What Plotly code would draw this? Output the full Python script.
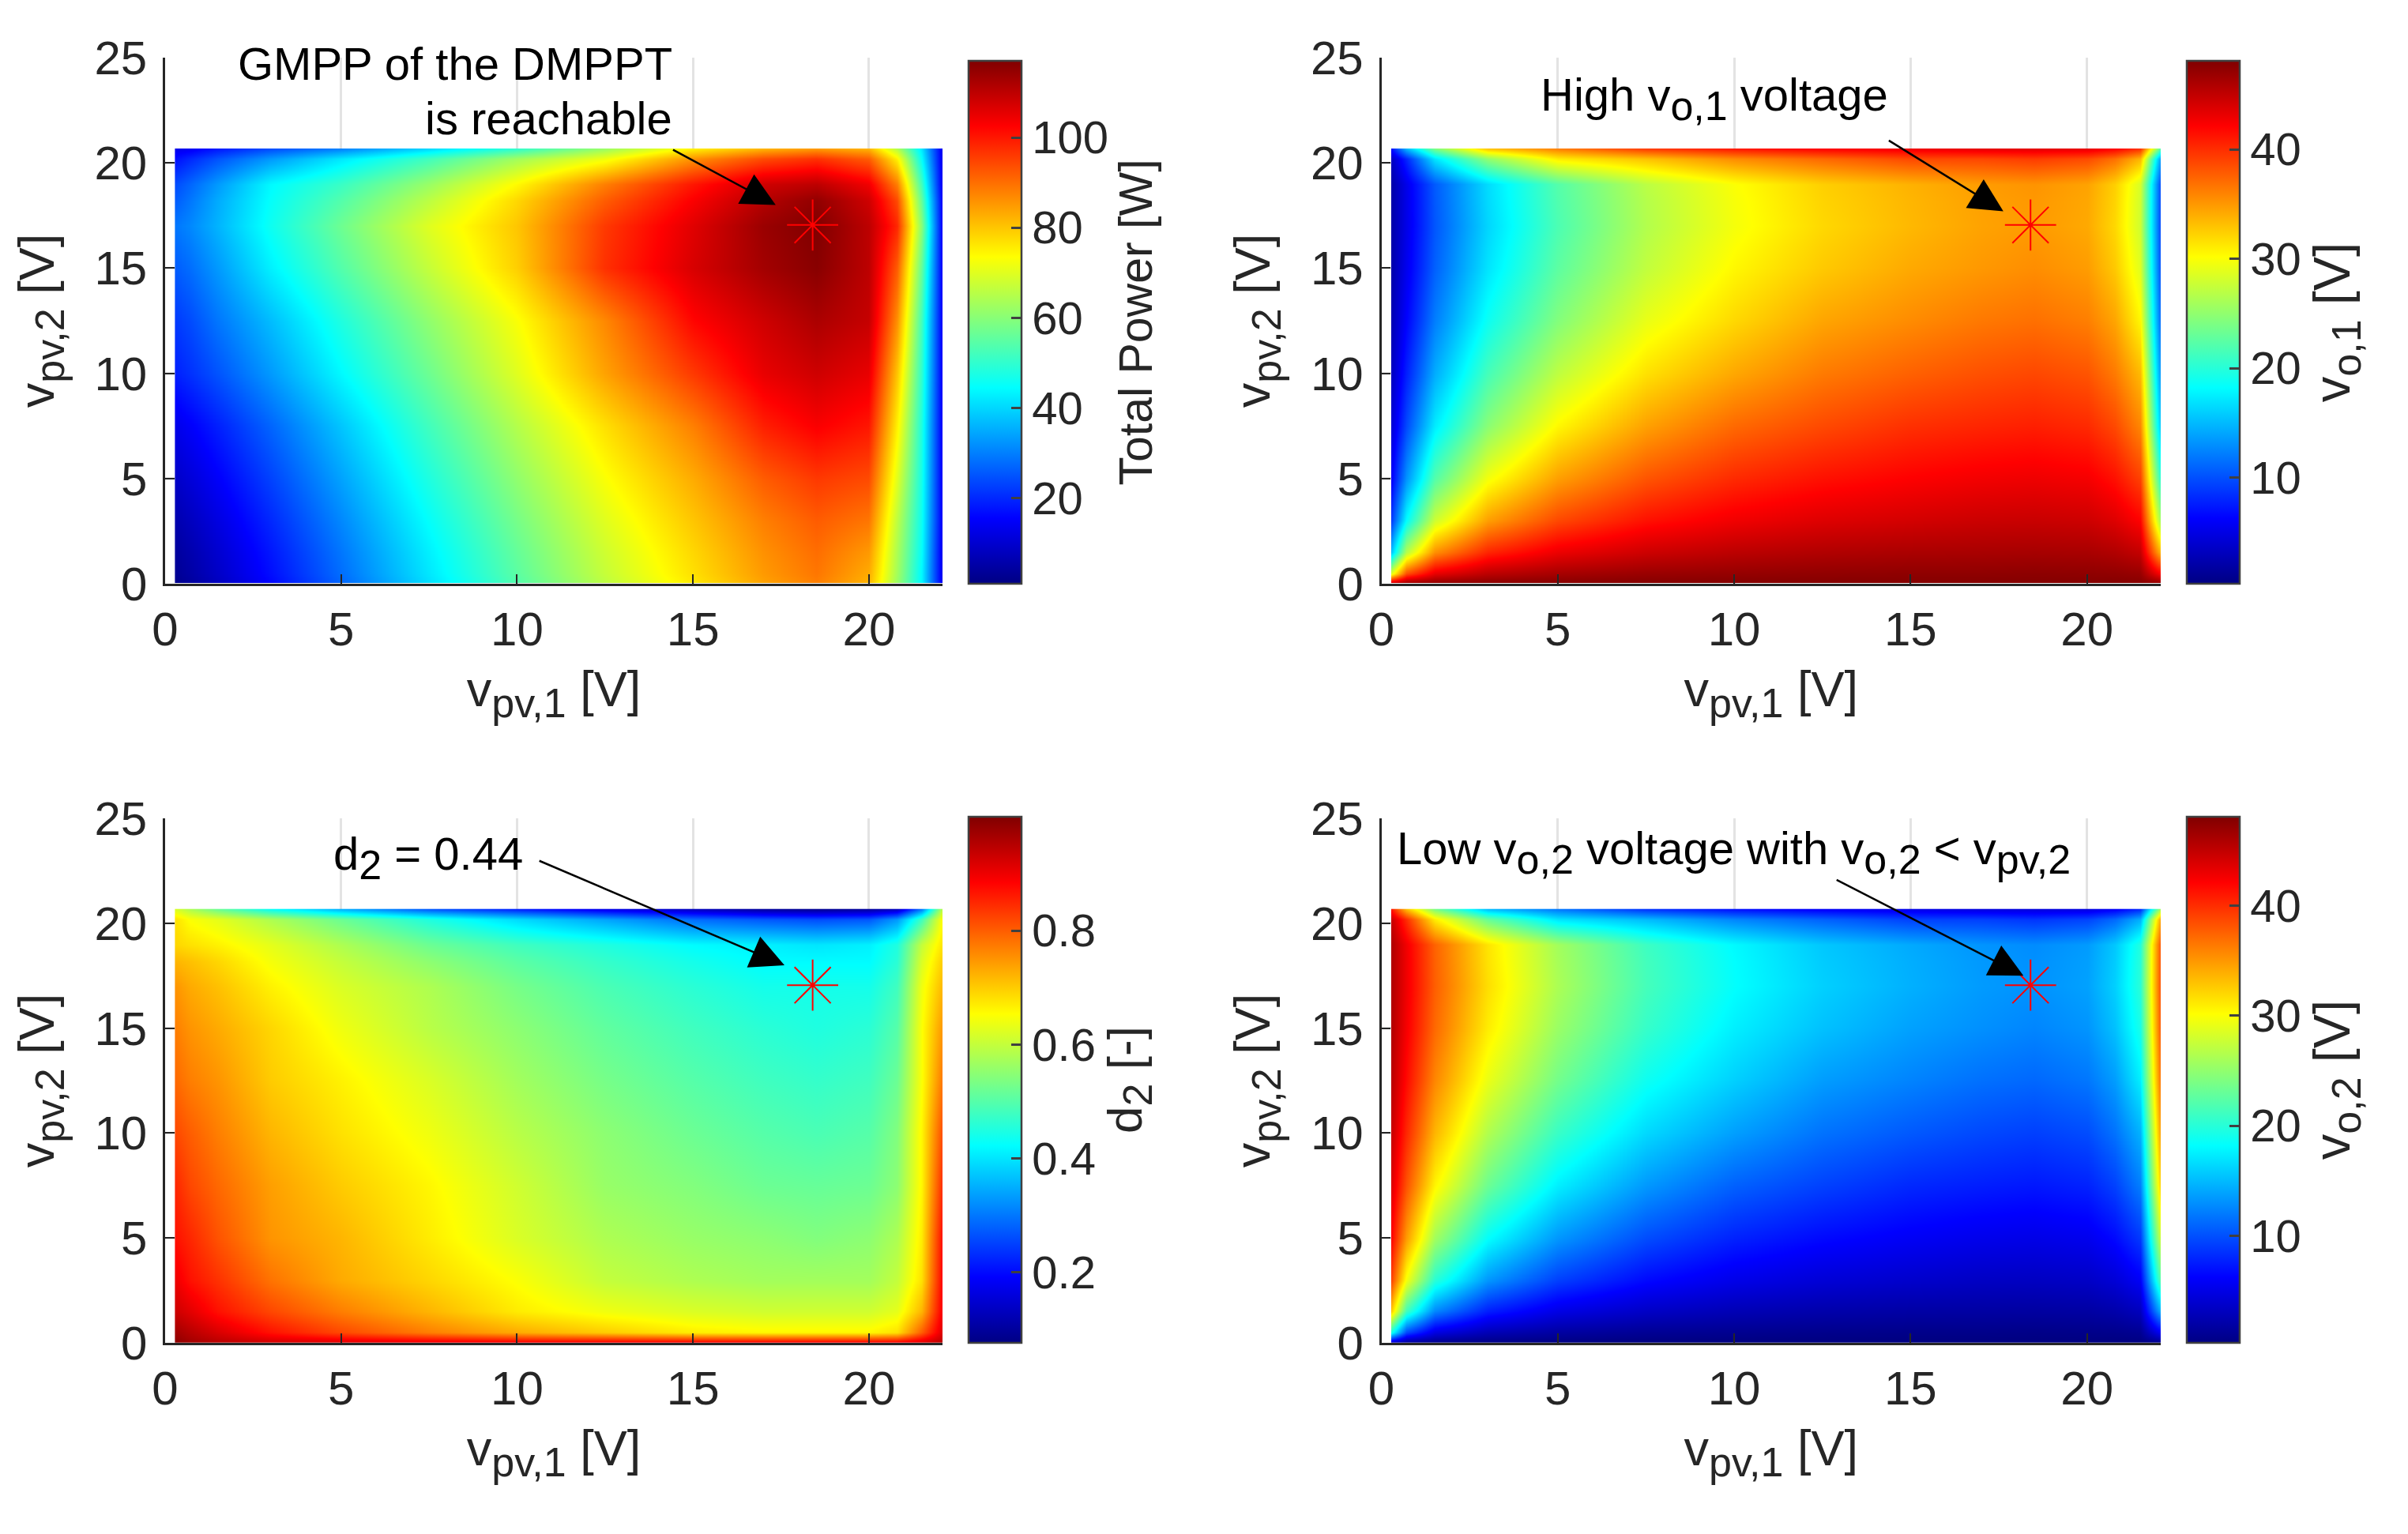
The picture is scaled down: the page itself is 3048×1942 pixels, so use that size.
import plotly.graph_objects as go

W, H = 3048, 1942

# ----- grid nodes (V) -----
vpv1 = [0.28, 0.7, 1.5, 3, 5, 7.5, 10, 12.5, 15, 17, 18.5, 20, 20.8, 21.5, 22.1]
vpv2 = [0.02, 0.5, 1.5, 3, 5, 7.5, 10, 12.5, 15, 17, 18.2, 19, 20.2, 20.68]

total_power = [
    [2, 4, 8, 16, 27, 41, 54, 66, 76, 84, 88, 82, 62, 44, 12],
    [3, 5, 9, 17, 28, 42, 55, 67, 77, 85, 89, 83, 63, 44, 12],
    [4, 6, 10, 18, 29, 43, 56, 68, 78, 86, 90, 85, 64, 45, 12],
    [6, 8, 12, 20, 31, 45, 58, 70, 80, 88, 92, 89, 66, 46, 13],
    [9, 11, 15, 23, 34, 48, 61, 73, 83, 92, 96, 94, 70, 47, 13],
    [13, 15, 19, 27, 38, 52, 65, 77, 88, 99, 103, 100, 75, 48, 13],
    [19, 21, 25, 33, 44, 57, 70, 84, 96, 105, 108, 105, 80, 50, 13],
    [22, 24, 29, 37, 48, 61, 73, 87, 102, 108, 112, 109, 86, 52, 13],
    [26, 28, 33, 43, 54, 67, 79, 97, 107, 113, 116, 110, 92, 56, 13],
    [29, 31, 36, 46, 57, 70, 80, 96, 106, 114, 117, 110, 98, 60, 13],
    [26, 29, 35, 45, 54, 66, 78, 92, 103, 111, 115, 108, 94, 56, 13],
    [24, 27, 33, 44, 51, 62, 74, 88, 100, 108, 110, 104, 88, 52, 12],
    [17, 20, 25, 33, 42, 52, 63, 72, 86, 94, 97, 92, 75, 45, 12],
    [13, 14, 18, 24, 30, 40, 50, 62, 75, 82, 85, 82, 65, 42, 12],
]

vo1 = [
    [45, 47, 47.5, 47.7, 47.8, 47.9, 47.9, 47.9, 47.9, 47.9, 47.9, 47.9, 47.9, 47.8, 47.3],
    [28.8, 38.4, 43.2, 45.3, 46.3, 46.9, 47.1, 47.3, 47.4, 47.4, 47.5, 47.4, 47.3, 47, 42],
    [15.3, 26.7, 35.4, 40.4, 43, 44.5, 45.3, 45.8, 46.1, 46.2, 46.3, 46.2, 45.8, 44.9, 32.9],
    [9, 18.3, 27.9, 34.7, 38.8, 41.4, 42.8, 43.7, 44.2, 44.6, 44.7, 44.5, 43.7, 42.1, 24.9],
    [6, 13.2, 22.2, 29.7, 34.7, 38.2, 40.2, 41.4, 42.2, 42.7, 42.9, 42.6, 41.4, 39.1, 19.2],
    [4.2, 9.7, 17.4, 24.7, 30.5, 34.6, 37.2, 38.7, 39.9, 40.4, 40.7, 40.2, 38.7, 35.8, 14.4],
    [3.2, 7.7, 14.4, 21.5, 27.2, 31.6, 34.3, 36.4, 37.6, 38.4, 38.8, 38.2, 36.4, 33.4, 12],
    [2.6, 6.3, 12.2, 18.8, 24.4, 29.2, 32, 34.4, 35.6, 36.5, 36.9, 36.2, 34.4, 30.5, 10],
    [2.2, 5.5, 10.8, 17, 22.6, 27.3, 30.5, 32.7, 34.2, 35, 35.5, 34.8, 32.7, 28.7, 8.8],
    [2.1, 5.2, 10.3, 16.3, 21.8, 26.6, 29.7, 32, 33.5, 34.5, 34.9, 34.2, 32, 27.9, 8.4],
    [2.1, 5.2, 10.4, 16.5, 22, 26.7, 29.8, 32.2, 33.6, 34.6, 35, 34.3, 32.2, 28, 8.5],
    [2.1, 5.3, 10.5, 16.6, 22.2, 27, 30, 32.4, 33.8, 34.8, 35.2, 34.5, 32.4, 28.3, 8.6],
    [3.3, 8, 17, 25, 31, 33, 35.5, 37.2, 38.7, 38.8, 39.3, 38.6, 36.8, 33.5, 12.4],
    [6.9, 14.8, 24, 33, 36.2, 39.4, 41.1, 42.2, 42.9, 43.4, 43.5, 43.3, 42.2, 39.9, 21],
]

d2 = [
    [.99, .97, .95, .93, .92, .91, .90, .90, .90, .90, .90, .90, .90, .92, .95],
    [.97, .95, .92, .87, .82, .77, .73, .70, .67, .66, .66, .66, .68, .80, .92],
    [.93, .91, .87, .82, .77, .72, .67, .64, .62, .61, .61, .61, .63, .72, .90],
    [.90, .87, .84, .78, .73, .69, .65, .60, .58, .57, .57, .57, .60, .68, .89],
    [.87, .85, .81, .75, .72, .67, .62, .58, .56, .55, .54, .55, .58, .67, .88],
    [.85, .82, .79, .74, .70, .66, .61, .56, .54, .52, .515, .52, .55, .66, .85],
    [.82, .80, .77, .72, .68, .64, .59, .55, .52, .50, .49, .50, .54, .66, .82],
    [.79, .77, .75, .70, .665, .62, .57, .53, .50, .48, .47, .48, .52, .65, .78],
    [.77, .75, .73, .69, .64, .59, .55, .51, .48, .46, .45, .46, .50, .65, .75],
    [.75, .73, .71, .665, .62, .58, .53, .49, .46, .44, .44, .44, .48, .64, .72],
    [.72, .71, .69, .645, .60, .55, .505, .47, .44, .42, .42, .42, .46, .62, .70],
    [.69, .68, .665, .63, .58, .52, .48, .45, .42, .41, .40, .41, .45, .60, .68],
    [.68, .65, .63, .58, .52, .45, .39, .34, .29, .27, .26, .27, .33, .48, .66],
    [.62, .58, .52, .43, .35, .27, .22, .17, .13, .10, .09, .10, .13, .30, .60],
]

vo2 = [
    [3, 1, .5, .3, .2, .1, .1, .1, .1, .1, .1, .1, .1, .2, .7],
    [19.2, 9.6, 4.8, 2.7, 1.7, 1.1, .9, .7, .6, .6, .5, .6, .7, 1, 6],
    [32.7, 21.3, 12.6, 7.6, 5, 3.5, 2.7, 2.2, 1.9, 1.8, 1.7, 1.8, 2.2, 3.1, 15.1],
    [39, 29.7, 20.1, 13.3, 9.2, 6.6, 5.2, 4.3, 3.8, 3.4, 3.3, 3.5, 4.3, 5.9, 23.1],
    [42, 34.8, 25.8, 18.3, 13.3, 9.8, 7.8, 6.6, 5.8, 5.3, 5.1, 5.4, 6.6, 8.9, 28.8],
    [43.8, 38.3, 30.6, 23.3, 17.5, 13.4, 10.8, 9.3, 8.1, 7.6, 7.3, 7.8, 9.3, 12.2, 33.6],
    [44.8, 40.3, 33.6, 26.5, 20.8, 16.4, 13.7, 11.6, 10.4, 9.6, 9.2, 9.8, 11.6, 14.6, 36],
    [45.4, 41.7, 35.8, 29.2, 23.6, 18.8, 16, 13.6, 12.4, 11.5, 11.1, 11.8, 13.6, 17.5, 38],
    [45.8, 42.5, 37.2, 31, 25.4, 20.7, 17.5, 15.3, 13.8, 13, 12.5, 13.2, 15.3, 19.3, 39.2],
    [45.9, 42.8, 37.7, 31.7, 26.2, 21.4, 18.3, 16, 14.5, 13.5, 13.1, 13.8, 16, 20.1, 39.6],
    [45.9, 42.8, 37.6, 31.5, 26, 21.3, 18.2, 15.8, 14.4, 13.4, 13, 13.7, 15.8, 20, 39.5],
    [45.9, 42.7, 37.5, 31.4, 25.8, 21, 18, 15.6, 14.2, 13.2, 12.8, 13.5, 15.6, 19.7, 39.4],
    [44.7, 40, 31, 23, 17, 15, 12.5, 10.8, 9.3, 9.2, 8.7, 9.4, 11.2, 14.5, 35.6],
    [41.1, 33.2, 24, 15, 11.8, 8.6, 6.9, 5.8, 5.1, 4.6, 4.5, 4.7, 5.8, 8.1, 27],
]

x_ticks = [0, 5, 10, 15, 20]
y_ticks = [0, 5, 10, 15, 20, 25]
star_x = [18.4]
star_y = [17.05]

jet = [
    [0, "rgb(0,0,131)"], [0.125, "rgb(0,0,255)"], [0.375, "rgb(0,255,255)"],
    [0.625, "rgb(255,255,0)"], [0.875, "rgb(255,0,0)"], [1, "rgb(128,0,0)"],
]

FONT = "Liberation Sans"
INK = "#262626"
TICK = 60
LABEL = 63


def sub(s):
    return f'<sub><span style="font-size:52px">{s}</span></sub>'


def pad_rows_cols(z):
    # repeat the outermost nodes so the smoothed image stops at the outer nodes
    rows = [[r[0]] + r + [r[-1]] for r in z]
    return [rows[0]] + rows + [rows[-1]]


x_nodes = [vpv1[0] - 0.001] + vpv1 + [vpv1[-1] + 0.001]
y_nodes = [vpv2[0] - 0.001] + vpv2 + [vpv2[-1] + 0.001]

panels = [
    dict(z=total_power, zmin=1, zmax=117, ticks=[20, 40, 60, 80, 100], title="Total Power [W]", tsize=59,
         box=(209, 1193, 73, 739), cb=(1226, 77, 739)),
    dict(z=vo1, zmin=0.3, zmax=48.1, ticks=[10, 20, 30, 40], title="v" + sub("o,1") + " [V]", tsize=65,
         box=(1748.5, 2735, 73, 739), cb=(2768, 77, 739)),
    dict(z=d2, zmin=0.076, zmax=1.0, ticks=[0.2, 0.4, 0.6, 0.8], title="d" + sub("2") + " [-]", tsize=62,
         box=(209, 1193, 1036, 1700), cb=(1226, 1034, 1700)),
    dict(z=vo2, zmin=0.25, zmax=48.1, ticks=[10, 20, 30, 40], title="v" + sub("o,2") + " [V]", tsize=65,
         box=(1748.5, 2735, 1036, 1700), cb=(2768, 1034, 1700)),
]

fig = go.Figure()
layout = dict(
    width=W, height=H, margin=dict(l=0, r=0, t=0, b=0), paper_bgcolor="white", plot_bgcolor="white",
    showlegend=False, font=dict(family=FONT, size=TICK, color=INK),
)

for i, p in enumerate(panels):
    n = i + 1
    xa, ya = f"xaxis{n}", f"yaxis{n}"
    x0, x1, y0, y1 = p["box"]
    cbx, cbt, cbb = p["cb"]
    fig.add_trace(go.Heatmap(
        x=x_nodes, y=y_nodes, z=pad_rows_cols(p["z"]), zmin=p["zmin"], zmax=p["zmax"], zsmooth="best",
        colorscale=jet, xaxis=f"x{n}", yaxis=f"y{n}",
        colorbar=dict(
            x=cbx / W, xanchor="left", xpad=0, ypad=0, y=1 - cbt / H, yanchor="top",
            len=(cbb - cbt) / H, lenmode="fraction", thickness=67, thicknessmode="pixels",
            outlinecolor="#404040", outlinewidth=2.5, tickvals=p["ticks"], ticks="inside",
            ticklen=14, tickwidth=2.5, tickcolor="#404040", ticksuffix="\u00a0",
            tickfont=dict(family=FONT, size=58, color=INK),
            title=dict(text=p["title"], side="right", font=dict(family=FONT, size=p["tsize"], color=INK)),
        ),
    ))
    fig.add_trace(go.Scatter(
        x=star_x, y=star_y, mode="markers", xaxis=f"x{n}", yaxis=f"y{n}", hoverinfo="skip",
        marker=dict(symbol="asterisk-open", size=54, color="red", line=dict(color="red", width=2)),
    ))
    layout[xa] = dict(
        domain=[x0 / W, x1 / W], range=[0, 22.09], anchor=f"y{n}", tickvals=x_ticks, ticks="inside",
        ticklen=12, tickwidth=2, tickcolor=INK, showline=True, linecolor=INK, linewidth=2.5,
        showgrid=True, gridcolor="#e3e3e3", gridwidth=2.5, zeroline=False, ticklabelstandoff=3,
        automargin=False, tickfont=dict(family=FONT, size=TICK, color=INK),
        title=dict(text="v" + sub("pv,1") + " [V]", standoff=22, font=dict(family=FONT, size=LABEL, color=INK)),
    )
    layout[ya] = dict(
        domain=[1 - y1 / H, 1 - y0 / H], range=[0, 25], anchor=f"x{n}", tickvals=y_ticks, ticks="inside",
        ticklen=12, tickwidth=2, tickcolor=INK, showline=True, linecolor=INK, linewidth=2.5,
        showgrid=True, gridcolor="#e3e3e3", gridwidth=2.5, zeroline=False, ticklabelstandoff=8,
        automargin=False, tickfont=dict(family=FONT, size=TICK, color=INK),
        title=dict(text="v" + sub("pv,2") + " [V]", standoff=31, font=dict(family=FONT, size=LABEL, color=INK)),
    )

fig.update_layout(**layout)


def arrow(n, tail, tip):
    fig.add_annotation(
        x=tip[0], y=tip[1], ax=tail[0], ay=tail[1], xref=f"x{n}", yref=f"y{n}", axref=f"x{n}", ayref=f"y{n}",
        text="", showarrow=True, arrowhead=2, arrowsize=3.4, arrowwidth=2.5, arrowcolor="black",
    )


arrow(1, (14.4, 20.65), (17.35, 18.0))
arrow(2, (14.35, 21.1), (17.63, 17.7))
arrow(3, (10.6, 23.0), (17.6, 18.0))
arrow(4, (12.87, 22.1), (18.2, 17.5))


def label(text, px, py, anchor="left"):
    fig.add_annotation(
        x=px / W, y=1 - py / H, xref="paper", yref="paper", xanchor=anchor, yanchor="middle",
        text=text, showarrow=False, font=dict(family=FONT, size=58, color="black"),
    )


label("GMPP of the DMPPT", 853, 80, "right")
label("is reachable", 853, 150, "right")
label("High v" + sub("o,1") + " voltage", 1948, 125)
label("d" + sub("2") + " = 0.44", 420, 1086)
label("Low v" + sub("o,2") + " voltage with v" + sub("o,2") + " &lt; v" + sub("pv,2"), 1766, 1079)

fig.write_html("out.html", post_script="document.body.style.margin='0';", config={"displayModeBar": False})
